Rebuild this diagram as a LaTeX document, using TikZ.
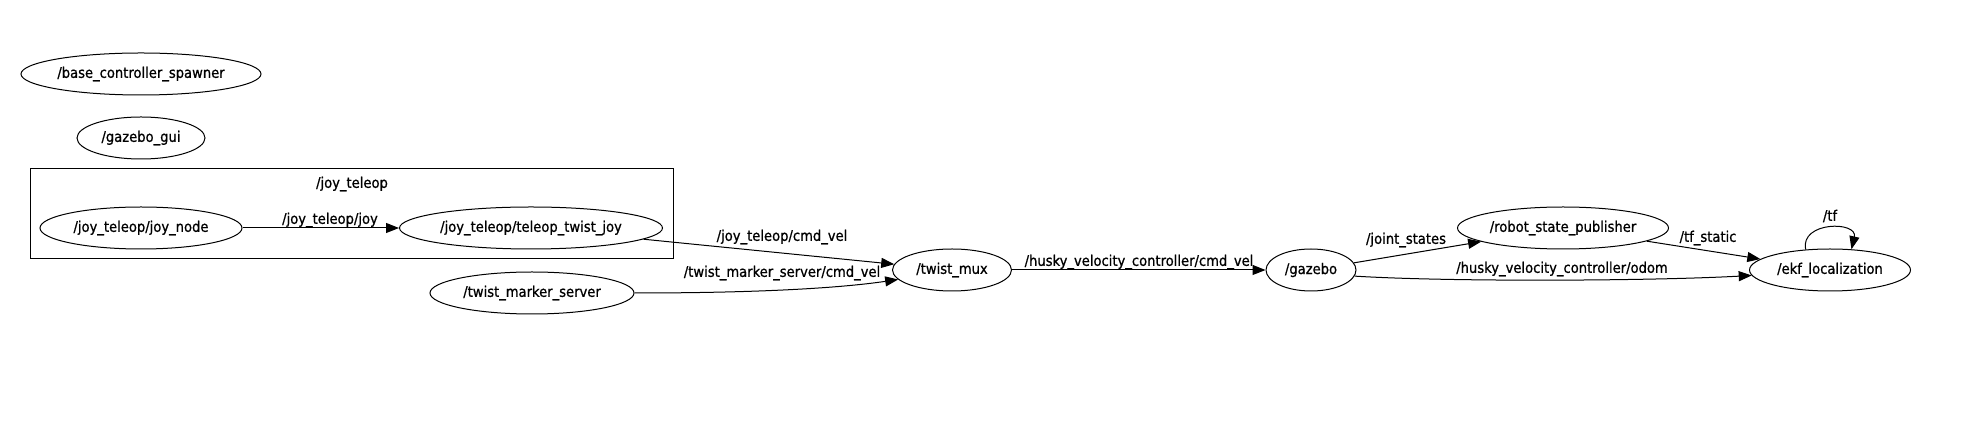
\documentclass[tikz,border=0pt]{standalone}
\usepackage{fontspec}
\setmainfont{DejaVu Sans Condensed}[BoldFont=DejaVu Sans Condensed,BoldFeatures={FakeBold=0.8}]
\usetikzlibrary{shapes.geometric,arrows.meta}

\begin{document}
\begin{tikzpicture}[x=0.5pt,y=-0.5pt,line width=0.5pt,
  rosnode/.style={draw,ellipse,inner sep=0pt,minimum height=21pt,font=\fontsize{7.3}{8}\selectfont\bfseries},
  topic/.style={inner sep=0pt,font=\fontsize{7.3}{8}\selectfont\bfseries},
  pub/.style={-{Triangle[length=6.5pt,width=5pt]}},
  clusterbox/.style={draw,rectangle,inner sep=0pt}]
\useasboundingbox (0,0) rectangle (1964,442);
\node[rosnode,minimum width=120pt] (basectl) at (141,74) {/base\_controller\_spawner};
\node[rosnode,minimum width=64pt] (gzgui) at (141,138) {/gazebo\_gui};
\node[clusterbox,minimum width=321.5pt,minimum height=45pt] (cluster) at (351.5,214) {};
\node[topic] (clusterlbl) at (352,184) {/joy\_teleop};
\node[rosnode,minimum width=101pt] (joynode) at (141,228) {/joy\_teleop/joy\_node};
\node[rosnode,minimum width=131.5pt] (teleop) at (531,228) {/joy\_teleop/teleop\_twist\_joy};
\node[rosnode,minimum width=102pt] (marker) at (532,293) {/twist\_marker\_server};
\node[rosnode,minimum width=59.5pt] (mux) at (952,270) {/twist\_mux};
\node[rosnode,minimum width=45pt] (gazebo) at (1311,270) {/gazebo};
\node[rosnode,minimum width=105.5pt] (rsp) at (1563,228) {/robot\_state\_publisher};
\node[rosnode,minimum width=80.5pt] (ekf) at (1830,270) {/ekf\_localization};
\node[topic] (ljoy) at (330,220) {/joy\_teleop/joy};
\node[topic] (lcmd) at (782,237) {/joy\_teleop/cmd\_vel};
\node[topic] (lmarker) at (782,273) {/twist\_marker\_server/cmd\_vel};
\node[topic] (lhusky) at (1139,262) {/husky\_velocity\_controller/cmd\_vel};
\node[topic] (ljoint) at (1406,240) {/joint\_states};
\node[topic] (lstatic) at (1708,238) {/tf\_static};
\node[topic] (lodom) at (1562,269) {/husky\_velocity\_controller/odom};
\node[topic] (ltf) at (1830,216) {/tf};
\draw[pub] (joynode) -- (teleop);
\draw[pub] (teleop) -- (mux);
\draw[pub] (marker.east) .. controls (760,293) and (840,288) .. (mux.190);
\draw[pub] (mux) -- (gazebo);
\draw[pub] (gazebo) -- (rsp);
\draw[pub] (gazebo.-8) .. controls (1450,282) and (1650,281) .. (ekf.184);
\draw[pub] (rsp) -- (ekf);
\draw[pub] (ekf.140) .. controls (1800,221) and (1858,221) .. (ekf.44);
\end{tikzpicture}
\end{document}
